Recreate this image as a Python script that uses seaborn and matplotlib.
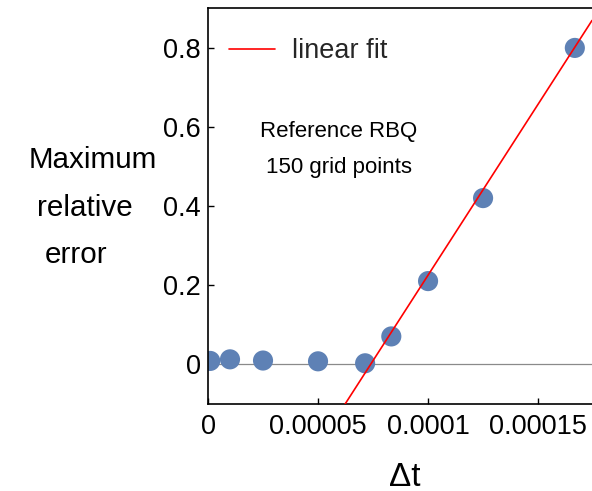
import numpy as np
import pandas as pd
import matplotlib
matplotlib.use("Agg")
import matplotlib.pyplot as plt
import seaborn as sns

# Time steps and maximum relative error
dt_values = [1e-6, 1.0e-5, 2.5e-5, 5.0e-5, 7.14e-5, 8.33e-5, 1.0e-4, 1.25e-4, 1.667e-4]
max_rel_error = [0.008, 0.012, 0.009, 0.007, 0.002, 0.070, 0.210, 0.420, 0.800]

# Linear fit of the unstable branch
fit_slope = 8650.0
fit_intercept = -0.64

x_ticks = [0.0, 0.00005, 0.0001, 0.00015]
x_tick_labels = ["0", "0.00005", "0.0001", "0.00015"]
y_ticks = [0.0, 0.2, 0.4, 0.6, 0.8]
y_tick_labels = ["0", "0.2", "0.4", "0.6", "0.8"]
x_limits = (0.0, 0.0001745)
y_limits = (-0.101, 0.901)

sns.set_theme(style="ticks")
plt.rcParams["font.family"] = ["Liberation Sans", "DejaVu Sans"]

W, H = 592, 491
fig = plt.figure(figsize=(W / 100, H / 100), dpi=100)
ax = fig.add_axes([208 / W, 1 - 404 / H, (W - 208) / W, (404 - 8) / H])

df = pd.DataFrame({"dt": dt_values, "err": max_rel_error})
fit_df = pd.DataFrame({"dt": list(x_limits)})
fit_df["err"] = fit_slope * fit_df["dt"] + fit_intercept

ax.axhline(0, color="#8a8a8a", lw=0.9, zorder=1)
sns.scatterplot(data=df, x="dt", y="err", ax=ax, s=210, color="#5E81B5",
                edgecolor="none", zorder=2)
sns.lineplot(data=fit_df, x="dt", y="err", ax=ax, color="#ff0000", lw=1.2,
             label="linear fit", zorder=3)

ax.set_xlim(*x_limits)
ax.set_ylim(*y_limits)
ax.set_xticks(x_ticks)
ax.set_xticklabels(x_tick_labels)
ax.set_yticks(y_ticks)
ax.set_yticklabels(y_tick_labels)
ax.tick_params(direction="in", length=4, width=1.0, labelsize=19.5,
               colors="black")
ax.tick_params(axis="x", pad=7)
ax.tick_params(axis="y", pad=5)
ax.set_xlabel("")
ax.set_ylabel("")

for side in ["left", "top", "bottom"]:
    ax.spines[side].set_visible(True)
    ax.spines[side].set_color("black")
    ax.spines[side].set_linewidth(1.2)
ax.spines["right"].set_visible(False)

leg = ax.legend(loc="center left", bbox_to_anchor=(21 / 384, (404 - 51) / 396),
                frameon=False, fontsize=19.5, handlelength=1.7,
                handletextpad=0.62, borderpad=0, borderaxespad=0)

ax.text(0.34, 0.643, "Reference RBQ\n150 grid points", transform=ax.transAxes,
        ha="center", va="center", fontsize=16, linespacing=1.95, color="black")

# Multi-line y-axis caption
for txt, x0, yb in [("Maximum", 29, 168), ("relative", 37, 216), ("error", 45, 263)]:
    fig.text(x0 / W, 1 - yb / H, txt, ha="left", va="baseline", fontsize=21.3,
             color="black")

fig.text(405 / W, 1 - 477 / H, "Δt", ha="center", va="center", fontsize=24,
         color="black")

fig.savefig("out.png", dpi=100)
